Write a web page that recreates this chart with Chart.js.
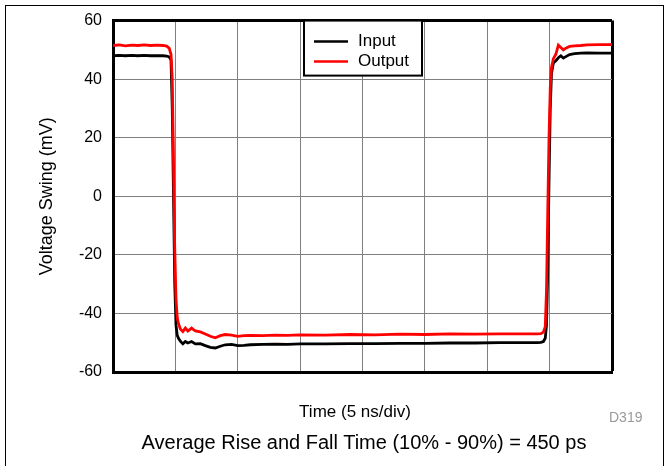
<!DOCTYPE html>
<html>
<head>
<meta charset="utf-8">
<script src="https://cdn.jsdelivr.net/npm/chart.js@4/dist/chart.umd.min.js"></script>
<style>
  html, body { margin: 0; padding: 0; background: #fff; overflow: hidden; }
  body { width: 669px; height: 466px; position: relative; font-family: "Liberation Sans", Arial, sans-serif; }
  #frame { position: absolute; left: 5px; top: 5px; width: 657px; height: 480px;
           border: 1px solid #000; border-bottom: none; }
  #chart { position: absolute; left: 0; top: 0; }
  .note { position: absolute; white-space: nowrap; color: #000; }
  #xtitle { left: 355px; top: 402px; font-size: 17px; transform: translateX(-50%); }
  #code { left: 609px; top: 409px; font-size: 14px; color: #999; }
  #footer { left: 364px; top: 431px; font-size: 20px; transform: translateX(-50%); }
</style>
</head>
<body>
<div id="frame"></div>
<canvas id="chart" width="669" height="466"></canvas>
<div class="note" id="xtitle">Time (5 ns/div)</div>
<div class="note" id="code">D319</div>
<div class="note" id="footer">Average Rise and Fall Time (10% - 90%) = 450 ps</div>
<script>
// time axis in ns, 5 ns per division, 8 divisions
const timeNs = [0, 0.5, 1, 1.5, 2, 2.5, 3, 3.5, 4,
    4.3, 4.5, 4.65, 4.75, 4.85, 4.95, 5.05, 5.15, 5.25,
    5.4, 5.6, 5.8, 6.0, 6.3, 6.6, 7.0, 7.4, 7.8, 8.2,
    8.6, 9.0, 9.5, 10.0, 10.5, 11, 12, 13, 14, 15,
    17, 19, 21, 23, 25, 27, 29, 31, 33, 34,
    34.3, 34.5, 34.65, 34.75, 34.85, 34.95, 35.05, 35.15, 35.3, 35.5,
    35.7, 35.9, 36.1, 36.3, 36.6, 37, 37.5, 38, 39, 40];

const inputMv = [48.0, 48.1, 48.0, 48.1, 48.0, 48.1, 48.0, 48.0, 48.0,
    47.9, 47.6, 46.5, 30, 0, -30, -44, -47.5, -48.5,
    -49.5, -50.4, -49.6, -50.1, -49.6, -50.4, -50.3, -51.0, -51.6, -51.8,
    -51.2, -50.7, -50.6, -51.0, -50.9, -50.7, -50.6, -50.5, -50.6, -50.4,
    -50.4, -50.3, -50.3, -50.2, -50.2, -50.1, -50.1, -50.0, -50.0, -50.0,
    -49.9, -49.6, -48.5, -44, -25, 5, 30, 42, 45.5, 46.3,
    47.3, 48.0, 47.2, 47.7, 48.4, 48.7, 48.9, 49.0, 48.9, 48.9];

const outputMv = [51.5, 51.7, 51.4, 51.6, 51.5, 51.7, 51.5, 51.6, 51.5,
    51.3, 50.6, 48.5, 40, 12, -18, -35, -41.5, -43.5,
    -45.3, -46.2, -45.0, -46.0, -45.0, -46.0, -46.3, -47.0, -47.8, -48.3,
    -47.6, -47.2, -47.4, -47.8, -47.6, -47.5, -47.6, -47.4, -47.5, -47.3,
    -47.4, -47.2, -47.3, -47.1, -47.2, -47.0, -47.1, -47.0, -47.0, -47.0,
    -46.9, -46.4, -44.5, -32, -5, 20, 37, 44, 47, 48.5,
    51.6, 50.8, 50.0, 50.6, 51.2, 51.4, 51.5, 51.7, 51.8, 51.8];

const seriesNames = ['Input', 'Output'];
const yMin = -60, yMax = 60, yStep = 20;
const xMin = 0, xMax = 40, xStep = 5;

const FONT = '"Liberation Sans", Arial, sans-serif';

function toPoints(values) {
    return timeNs.map((t, i) => ({ x: t, y: values[i] }));
}

// legend box sitting inside the plot, top middle
const insideLegend = {
    id: 'insideLegend',
    afterDraw(chart) {
        const c = chart.ctx;
        const area = chart.chartArea;
        const left = 304, width = 118, top = area.top, height = 55;
        c.save();
        c.fillStyle = '#fff';
        c.fillRect(left, top, width, height);
        c.strokeStyle = '#000';
        c.lineWidth = 2;
        c.strokeRect(left, top, width, height);
        c.font = '17px ' + FONT;
        c.textBaseline = 'middle';
        // legend in input/output order
        const order = [1, 0];
        order.forEach((dsIndex, row) => {
            const ds = chart.data.datasets[dsIndex];
            const y = top + 21 + row * 20;
            c.strokeStyle = ds.borderColor;
            c.lineWidth = 2.5;
            c.beginPath();
            c.moveTo(314, y);
            c.lineTo(348, y);
            c.stroke();
            c.fillStyle = '#000';
            c.fillText(ds.label, 358, y);
        });
        c.restore();
    }
};

new Chart(document.getElementById('chart').getContext('2d'), {
    type: 'line',
    data: {
        datasets: [
            {
                label: seriesNames[1],
                data: toPoints(outputMv),
                borderColor: '#ff0000',
                borderWidth: 2.8,
                pointRadius: 0,
                tension: 0,
                fill: false,
                order: 0
            },
            {
                label: seriesNames[0],
                data: toPoints(inputMv),
                borderColor: '#000000',
                borderWidth: 2.8,
                pointRadius: 0,
                tension: 0,
                fill: false,
                order: 1
            }
        ]
    },
    options: {
        responsive: false,
        devicePixelRatio: 1,
        animation: false,
        layout: {
            padding: { left: 36.2, top: 19, right: 57, bottom: 94 }
        },
        scales: {
            x: {
                type: 'linear',
                min: xMin,
                max: xMax,
                ticks: { display: false, stepSize: xStep },
                grid: {
                    drawTicks: false,
                    color: (ctx) => ctx.tick && ctx.tick.value === xMax ? '#000' : '#7f7f7f',
                    lineWidth: (ctx) => ctx.tick && ctx.tick.value === xMax ? 3 : 1
                },
                border: { color: '#000', width: 3 },
                afterFit: (axis) => { axis.height = 0; }
            },
            y: {
                type: 'linear',
                min: yMin,
                max: yMax,
                ticks: {
                    stepSize: yStep,
                    color: '#000',
                    padding: 11,
                    font: { family: FONT, size: 16 }
                },
                grid: {
                    drawTicks: false,
                    color: (ctx) => ctx.tick && ctx.tick.value === yMax ? '#000' : '#7f7f7f',
                    lineWidth: (ctx) => ctx.tick && ctx.tick.value === yMax ? 3 : 1
                },
                border: { color: '#000', width: 3 },
                title: {
                    display: true,
                    text: 'Voltage Swing (mV)',
                    color: '#000',
                    padding: 0,
                    font: { family: FONT, size: 18 }
                },
                afterFit: (axis) => { axis.width = 113 - 36.2; }
            }
        },
        plugins: {
            legend: { display: false },
            tooltip: { enabled: false }
        }
    },
    plugins: [insideLegend]
});
</script>
</body>
</html>
